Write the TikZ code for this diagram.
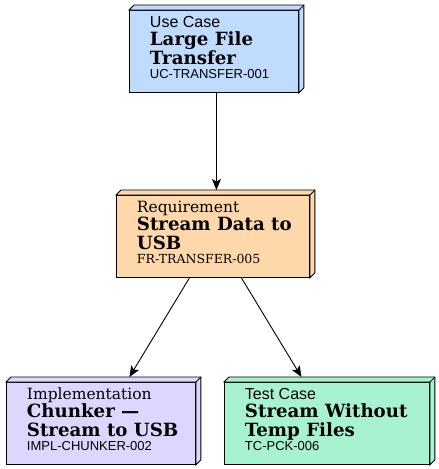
\documentclass[tikz,border=0pt]{standalone}
\usepackage{fontspec}
\setmainfont{DejaVu Serif}
\newfontfamily\lsans{Liberation Sans}
\usetikzlibrary{arrows.meta,calc}
\definecolor{cUse}{HTML}{BFDBFE}
\definecolor{cReq}{HTML}{FED7AA}
\definecolor{cImp}{HTML}{DDD6FE}
\definecolor{cTst}{HTML}{A7F3D0}
\tikzset{
  bthree/.style={draw=black, line width=0.9pt, fill=#1, anchor=north west,
    minimum height=82pt, inner xsep=20.5pt, inner ysep=0pt},
  edge/.style={draw=black, line width=0.9pt, -{Stealth[length=11pt,width=9pt,inset=2.5pt]}}
}
\newcommand{\sidefaces}[2]{%
  \path[draw=black, line width=0.9pt, fill=#2, line join=miter]
    (#1.north west) -- ++(5pt,5pt) -- ($(#1.north east)+(5pt,5pt)$)
    -- ($(#1.south east)+(5pt,5pt)$) -- (#1.south east) -- (#1.north east) -- cycle;
  \draw[line width=0.9pt] (#1.north east) -- ++(5pt,5pt);
}
\newcommand{\kindS}[1]{{\lsans\fontsize{16}{18.5}\selectfont #1}}
\newcommand{\kindR}[1]{{\fontsize{15.5}{18.5}\selectfont #1}}
\newcommand{\ttl}[1]{{\bfseries\fontsize{18.2}{18.5}\selectfont #1}}
\newcommand{\idS}[1]{{\lsans\fontsize{13}{18.5}\selectfont #1}}
\newcommand{\idR}[1]{{\fontsize{12.5}{18.5}\selectfont #1}}
% #1 width, #2 kind line, #3 title line 1, #4 title line 2, #5 id line
\newcommand{\btext}[5]{%
  \begin{minipage}[t][82pt][t]{#1}%
  \baselineskip=18.6pt\lineskiplimit=-100pt\lineskip=0pt\parindent=0pt\parskip=0pt
  \vspace*{4.7pt}%
  \mbox{\rule{0pt}{12pt}#2}\par
  \mbox{#3}\par
  \mbox{#4}\par
  \vskip -4.8pt
  \mbox{#5}\par
  \end{minipage}}
\begin{document}
\begin{tikzpicture}[x=1pt,y=1pt]
\useasboundingbox (0,0) rectangle (439,-469);
\node[bthree=cUse] (uc) at (129,-10)
  {\btext{128pt}{\kindS{Use Case}}{\ttl{Large File}}{\ttl{Transfer}}{\idS{UC-TRANSFER-001}}};
\sidefaces{uc}{cUse}
\node[bthree=cReq] (fr) at (116,-195)
  {\btext{152pt}{\kindR{Requirement}}{\ttl{Stream Data to}}{\ttl{USB}}{\idR{FR-TRANSFER-005}}};
\sidefaces{fr}{cReq}
\node[bthree=cImp] (impl) at (6,-382)
  {\btext{148pt}{\kindR{Implementation}}{\ttl{Chunker —}}{\ttl{Stream to USB}}{\idS{IMPL-CHUNKER-002}}};
\sidefaces{impl}{cImp}
\node[bthree=cTst] (tc) at (224,-382)
  {\btext{164pt}{\kindS{Test Case}}{\ttl{Stream Without}}{\ttl{Temp Files}}{\idS{TC-PCK-006}}};
\sidefaces{tc}{cTst}
\draw[edge] ($(uc.south)+(2.5,0)$) -- ($(fr.north)+(3.5,5)$);
\draw[edge] ($(fr.south)+(-23.5,0)$) -- ($(impl.north)+(28.5,5)$);
\draw[edge] ($(fr.south)+(28.5,0)$) -- ($(tc.north)+(-25.5,5)$);
\end{tikzpicture}
\end{document}
